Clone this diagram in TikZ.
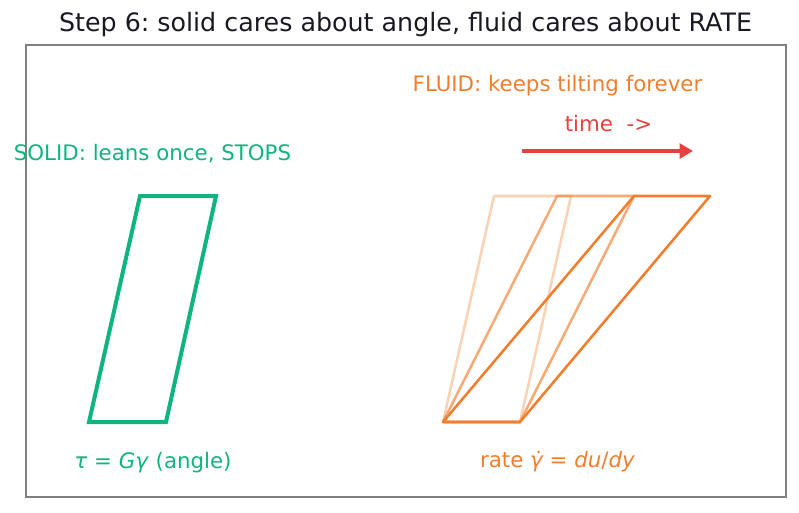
\documentclass[tikz,border=0pt]{standalone}
\usepackage{fontspec}
\setmainfont{DejaVu Sans}
\usetikzlibrary{arrows.meta}
\frenchspacing

\definecolor{solidgreen}{RGB}{16,180,128}
\definecolor{fluidorange}{RGB}{242,125,45}
\definecolor{timered}{RGB}{232,64,64}
\definecolor{framegray}{RGB}{128,128,128}
\definecolor{titleink}{RGB}{25,25,35}

\begin{document}
\begin{tikzpicture}[x=0.75pt,y=-0.75pt,
    lbl/.style={font=\fontsize{16}{19}\selectfont, inner sep=0pt},
    solidbox/.style={solidgreen, line width=3pt, line join=miter},
    fluidbox/.style={fluidorange, line width=1.9pt, line join=round}]
        \useasboundingbox (0,0) rectangle (799,512);

        % Title and frame
        \node[inner sep=0pt, text=titleink, font=\fontsize{19}{22}\selectfont] (title) at (405.5,25) {Step 6: solid cares about angle, fluid cares about RATE};
        \draw[framegray, line width=1.2pt] (26,45) rectangle (786,497);

        % Solid: one leaning block
        \draw[solidbox] (89,422) -- (166,422) -- (216,196) -- (140,196) -- cycle;
        \node[lbl, text=solidgreen] (solidtop) at (152.5,154) {SOLID: leans once, STOPS};
        \node[lbl, text=solidgreen] (solidlaw) at (153,463) {\textit{τ} = \textit{Gγ} (angle)};

        % Fluid: keeps shearing, later = darker
        \draw[fluidbox, opacity=0.35] (443,422) -- (520,422) -- (571,196) -- (494,196) -- cycle;
        \draw[fluidbox, opacity=0.65] (443,422) -- (520,422) -- (634,196) -- (557,196) -- cycle;
        \draw[fluidbox] (443,422) -- (520,422) -- (710,196) -- (634,196) -- cycle;
        \node[lbl, text=fluidorange] (fluidtop) at (557.5,86) {FLUID: keeps tilting forever};
        \node[lbl, text=fluidorange] (fluidlaw) at (557.5,462) {rate \textit{γ̇} = \textit{du}/\textit{dy}};

        % Time arrow
        \node[lbl, text=timered] (timelbl) at (608.5,124) {time~~->};
        \coordinate (tstart) at (522,151);
        \coordinate (tend) at (693,151);
        \draw[timered, line width=2.6pt, -{Triangle[length=10pt,width=11pt]}] (tstart) -- (tend);
    \end{tikzpicture}
\end{document}
